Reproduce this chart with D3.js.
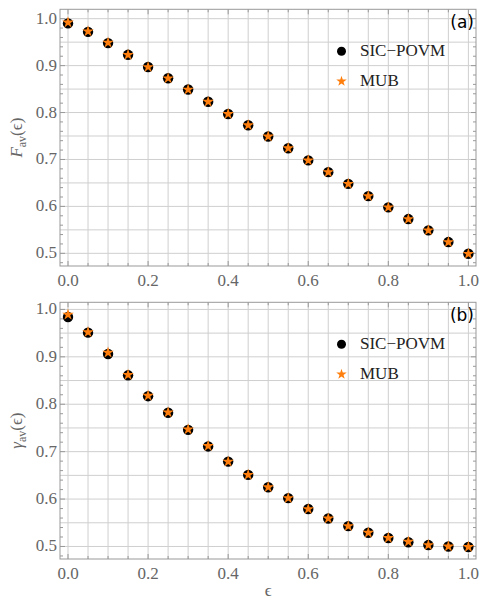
<!DOCTYPE html>
<html>
<head>
<meta charset="utf-8">
<script src="https://cdn.jsdelivr.net/npm/d3@7"></script>
<style>
  body { margin: 0; background: #fff; }
  svg { display: block; }
</style>
</head>
<body>
<svg id="chart" width="481" height="603"></svg>
<script>
// data
const eps = [0, 0.05, 0.1, 0.15, 0.2, 0.25, 0.3, 0.35, 0.4, 0.45, 0.5,
             0.55, 0.6, 0.65, 0.7, 0.75, 0.8, 0.85, 0.9, 0.95, 1.0];
const fSic = [0.990, 0.972, 0.948, 0.923, 0.897, 0.873, 0.849, 0.823, 0.797, 0.773, 0.749,
              0.724, 0.698, 0.673, 0.648, 0.622, 0.598, 0.573, 0.549, 0.524, 0.499];
const fMub = [0.992, 0.973, 0.949, 0.923, 0.897, 0.873, 0.849, 0.823, 0.797, 0.773, 0.749,
              0.724, 0.698, 0.673, 0.648, 0.622, 0.598, 0.573, 0.549, 0.524, 0.499];
const gSic = [0.984, 0.951, 0.906, 0.861, 0.817, 0.782, 0.746, 0.711, 0.679, 0.651, 0.625,
              0.602, 0.579, 0.559, 0.543, 0.529, 0.518, 0.509, 0.503, 0.500, 0.499];
const gMub = [0.989, 0.952, 0.909, 0.862, 0.818, 0.783, 0.747, 0.712, 0.679, 0.651, 0.625,
              0.602, 0.579, 0.559, 0.543, 0.529, 0.518, 0.510, 0.503, 0.500, 0.499];
const xTicks = [0, 0.2, 0.4, 0.6, 0.8, 1.0];
const yTicks = [0.5, 0.6, 0.7, 0.8, 0.9, 1.0];
const seriesNames = ["SIC\u2212POVM", "MUB"];

const svg = d3.select("#chart");
const orange = "#ff7f0e";
const gray = "#666";
const serif = "'Liberation Serif', 'Times New Roman', serif";

const x = d3.scaleLinear().domain([-0.02, 1.019]).range([60, 476]);

function panel(top, bottom, yDomain, sic, mub, tag, yLabelMain) {
  const y = d3.scaleLinear().domain(yDomain).range([bottom, top]);
  const g = svg.append("g");

  // grid every 0.05
  const gx = d3.range(0, 1.0001, 0.05);
  const gy = d3.range(0.5, 1.0001, 0.05);
  g.selectAll(".gx").data(gx).join("line")
    .attr("x1", d => x(d)).attr("x2", d => x(d))
    .attr("y1", top).attr("y2", bottom)
    .attr("stroke", "#cfcfcf").attr("stroke-width", 1);
  g.selectAll(".gy").data(gy).join("line")
    .attr("x1", 60).attr("x2", 476)
    .attr("y1", d => y(d)).attr("y2", d => y(d))
    .attr("stroke", "#cfcfcf").attr("stroke-width", 1);

  // frame
  g.append("rect").attr("x", 60).attr("y", top)
    .attr("width", 416).attr("height", bottom - top)
    .attr("fill", "none").attr("stroke", "#999").attr("stroke-width", 1);

  // ticks (inward, all four sides)
  const xMinor = d3.range(0, 1.0001, 0.05);
  const yMinor = d3.range(0.48, 1.0101, 0.02);
  const isMajX = d => xTicks.some(t => Math.abs(t - d) < 1e-6);
  const isMajY = d => Math.abs(d * 10 - Math.round(d * 10)) < 1e-6;
  g.selectAll(".xt").data(xMinor).join("line")
    .attr("x1", d => x(d)).attr("x2", d => x(d))
    .attr("y1", bottom).attr("y2", d => bottom - (isMajX(d) ? 5 : 3))
    .attr("stroke", "#999");
  g.selectAll(".xt2").data(xMinor).join("line")
    .attr("x1", d => x(d)).attr("x2", d => x(d))
    .attr("y1", top).attr("y2", d => top + (isMajX(d) ? 5 : 3))
    .attr("stroke", "#999");
  const yIn = yMinor.filter(d => d >= yDomain[0] && d <= yDomain[1]);
  g.selectAll(".yt").data(yIn).join("line")
    .attr("x1", 60).attr("x2", d => 60 + (isMajY(d) ? 5 : 3))
    .attr("y1", d => y(d)).attr("y2", d => y(d))
    .attr("stroke", "#999");
  g.selectAll(".yt2").data(yIn).join("line")
    .attr("x1", 476).attr("x2", d => 476 - (isMajY(d) ? 5 : 3))
    .attr("y1", d => y(d)).attr("y2", d => y(d))
    .attr("stroke", "#999");

  // tick labels
  g.selectAll(".xl").data(xTicks).join("text")
    .attr("x", d => x(d)).attr("y", bottom + 20)
    .attr("text-anchor", "middle")
    .attr("font-family", serif).attr("font-size", 17)
    .attr("fill", gray).text(d => d.toFixed(1));
  g.selectAll(".yl").data(yTicks).join("text")
    .attr("x", 57).attr("y", d => y(d) + 5)
    .attr("text-anchor", "end")
    .attr("font-family", serif).attr("font-size", 17)
    .attr("fill", gray).text(d => d.toFixed(1));

  // y label
  const yc = (top + bottom) / 2;
  const lab = g.append("text")
    .attr("transform", `translate(22,${yc}) rotate(-90)`)
    .attr("text-anchor", "middle")
    .attr("font-family", serif).attr("font-size", 17)
    .attr("fill", gray);
  lab.append("tspan").attr("font-style", "italic").text(yLabelMain);
  lab.append("tspan").attr("font-size", 12).attr("dy", 4).text("av");
  lab.append("tspan").attr("dy", -4).text("(\u03F5)");

  // points
  const pts = eps.map((e, i) => ({e, s: sic[i], m: mub[i]}));
  g.selectAll(".sic").data(pts).join("circle")
    .attr("cx", d => x(d.e)).attr("cy", d => y(d.s))
    .attr("r", 5.2).attr("fill", "#000");
  const star = d3.symbol().type(d3.symbolStar).size(42);
  g.selectAll(".mub").data(pts).join("path")
    .attr("d", star)
    .attr("transform", d => `translate(${x(d.e)},${y(d.m)})`)
    .attr("fill", orange);

  // legend
  const lx = 341.5, ly1 = top + 42, ly2 = top + 72;
  g.append("circle").attr("cx", lx).attr("cy", ly1).attr("r", 4.5).attr("fill", "#000");
  g.append("path").attr("d", d3.symbol().type(d3.symbolStar).size(34))
    .attr("transform", `translate(${lx},${ly2})`).attr("fill", orange);
  g.selectAll(".lg").data(seriesNames).join("text")
    .attr("x", 360).attr("y", (d, i) => (i ? ly2 : ly1) + 5)
    .attr("font-family", serif).attr("font-size", 17)
    .attr("fill", "#222").text(d => d);

  // panel tag
  g.append("text").attr("x", 474).attr("y", top + 19)
    .attr("text-anchor", "end")
    .attr("font-family", "'DejaVu Sans', sans-serif").attr("font-size", 17)
    .attr("fill", "#000").text(tag);

  return y;
}

panel(9.3, 266, [0.473, 1.02], fSic, fMub, "(a)", "F");
panel(302.3, 559, [0.4736, 1.015], gSic, gMub, "(b)", "\u03B3");

// x label
svg.append("text").attr("x", x(0.5)).attr("y", 596)
  .attr("text-anchor", "middle")
  .attr("font-family", serif).attr("font-size", 17)
  .attr("fill", gray).text("\u03F5");
</script>
</body>
</html>
